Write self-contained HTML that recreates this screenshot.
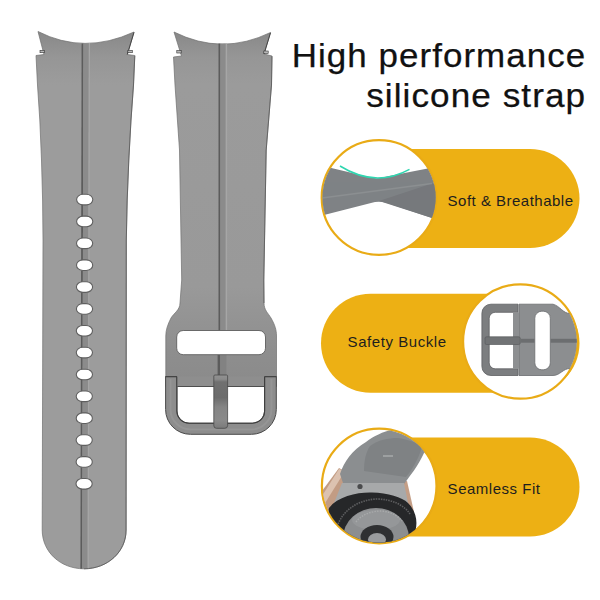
<!DOCTYPE html>
<html><head><meta charset="utf-8">
<style>
html,body{margin:0;padding:0;background:#fff;width:600px;height:600px;overflow:hidden}
svg{display:block;position:absolute;left:0;top:0}
text{font-family:"Liberation Sans",sans-serif}
</style></head>
<body>
<svg width="600" height="600" viewBox="0 0 600 600">
<defs>
  <clipPath id="c1"><circle cx="379" cy="197.5" r="56.6"/></clipPath>
  <clipPath id="c2"><circle cx="520.3" cy="341.5" r="56.5"/></clipPath>
  <clipPath id="c3"><circle cx="379.2" cy="486" r="56.6"/></clipPath>
  <linearGradient id="topshade" x1="0" y1="0" x2="0" y2="1">
    <stop offset="0" stop-color="#8e8e8e"/>
    <stop offset="1" stop-color="#9c9c9c"/>
  </linearGradient>
  <linearGradient id="lsg" gradientUnits="userSpaceOnUse" x1="0" y1="31" x2="0" y2="569">
    <stop offset="0" stop-color="#888"/>
    <stop offset="0.05" stop-color="#969696"/>
    <stop offset="0.1" stop-color="#9c9c9c"/>
    <stop offset="1" stop-color="#9c9c9c"/>
  </linearGradient>
  <linearGradient id="rsg" gradientUnits="userSpaceOnUse" x1="0" y1="31" x2="0" y2="387">
    <stop offset="0" stop-color="#888"/>
    <stop offset="0.075" stop-color="#969696"/>
    <stop offset="0.15" stop-color="#9b9b9b"/>
    <stop offset="0.72" stop-color="#999"/>
    <stop offset="0.9" stop-color="#8e8e8e"/>
    <stop offset="1" stop-color="#8a8a8a"/>
  </linearGradient>
  <linearGradient id="tg" x1="0" y1="0" x2="0" y2="1">
    <stop offset="0" stop-color="#929292"/>
    <stop offset="0.08" stop-color="#8a8a8a"/>
    <stop offset="0.13" stop-color="#707070"/>
    <stop offset="0.42" stop-color="#6c6c6c"/>
    <stop offset="0.6" stop-color="#858585"/>
    <stop offset="0.85" stop-color="#8a8a8a"/>
    <stop offset="1" stop-color="#7a7a7a"/>
  </linearGradient>
</defs>

<!-- LEFT STRAP -->
<g id="leftstrap">
  <path d="M38,31.5 Q84,55 134,32 L127.3,54.5 L134.8,55.5 L133.5,85 L131,120 L128.8,160 L127.2,200 L126.3,240 L126.1,530 C126.1,552 107.5,568.8 84,568.8 C60.5,568.8 42.2,552 42.2,530 L43,240 L42.6,200 L41.5,160 L39.8,120 L37.5,85 L36,55.5 L44,54.5 Z" fill="url(#lsg)" stroke="#6e6e6e" stroke-width="0.7"/>
  <polygon points="81.6,43.5 83.4,43.5 82.2,568.8 80.4,568.8" fill="#5c5c5c"/>
  <polygon points="83.4,43.5 88.8,43.5 87.6,568.8 82.2,568.8" fill="#8b8b8b"/>
  <polygon points="88.8,43 90,43 88.8,568 87.6,568" fill="#a6a6a6"/>
  <!-- holes -->
  <g fill="#fff" stroke="#5f5f5f" stroke-width="1.1">
    <rect x="76.6" y="194.30" width="16.2" height="10.6" rx="6.5" ry="5.3"/>
    <rect x="76.6" y="216.16" width="16.2" height="10.6" rx="6.5" ry="5.3"/>
    <rect x="76.5" y="238.02" width="16.2" height="10.6" rx="6.5" ry="5.3"/>
    <rect x="76.5" y="259.88" width="16.2" height="10.6" rx="6.5" ry="5.3"/>
    <rect x="76.4" y="281.74" width="16.2" height="10.6" rx="6.5" ry="5.3"/>
    <rect x="76.4" y="303.60" width="16.2" height="10.6" rx="6.5" ry="5.3"/>
    <rect x="76.3" y="325.46" width="16.2" height="10.6" rx="6.5" ry="5.3"/>
    <rect x="76.3" y="347.32" width="16.2" height="10.6" rx="6.5" ry="5.3"/>
    <rect x="76.3" y="369.18" width="16.2" height="10.6" rx="6.5" ry="5.3"/>
    <rect x="76.2" y="391.04" width="16.2" height="10.6" rx="6.5" ry="5.3"/>
    <rect x="76.2" y="412.90" width="16.2" height="10.6" rx="6.5" ry="5.3"/>
    <rect x="76.1" y="434.76" width="16.2" height="10.6" rx="6.5" ry="5.3"/>
    <rect x="76.1" y="456.62" width="16.2" height="10.6" rx="6.5" ry="5.3"/>
    <rect x="76.0" y="478.48" width="16.2" height="10.6" rx="6.5" ry="5.3"/>
  </g>
  <path d="M134.8,55.8 L133.5,85 L131,120 L128.8,160 L127.2,200 L126.3,240 L126.1,530 C126.1,552 107.5,568.8 84,568.8" fill="none" stroke="#555" stroke-width="0.9" opacity="0.8"/>
  <polyline points="134,32.3 127.3,54.5" fill="none" stroke="#444" stroke-width="1"/>
  <!-- spring bar pins -->
  <rect x="40" y="50.3" width="4.5" height="2.4" fill="#b8b8b8" stroke="#333" stroke-width="0.6"/>
  <rect x="127.8" y="50.3" width="4.5" height="2.4" fill="#b8b8b8" stroke="#333" stroke-width="0.6"/>
</g>

<!-- RIGHT STRAP -->
<g id="rightstrap">
  <path d="M174,32 Q222,56 270.5,32.5 L264,54 L272,56 L271.5,85 L266.2,150 L263.8,280 L264,303 C264,310 268,313 271,318 C275,325 276.5,330 276.5,336 L276.5,386.5 L165.8,386.5 L165.8,336 C165.8,330 167.5,325 171,318 C174,313 180,310 180,303 L181.7,280 L179.5,150 L175,85 L173.5,57 L181.5,56 Z" fill="url(#rsg)" stroke="#6e6e6e" stroke-width="0.7"/>
    <polyline points="272,56.3 271.5,85 266.2,150 263.8,280 264,303" fill="none" stroke="#555" stroke-width="0.9" opacity="0.8"/>
  <polyline points="270.5,32.8 264,54" fill="none" stroke="#444" stroke-width="1"/>
  <rect x="176.8" y="50.6" width="4.4" height="2.4" fill="#b8b8b8" stroke="#333" stroke-width="0.6"/>
  <rect x="263.8" y="51" width="4.4" height="2.4" fill="#b8b8b8" stroke="#333" stroke-width="0.6"/>
  <rect x="218.5" y="43.5" width="1.9" height="287.5" fill="#5c5c5c"/>
  <rect x="220.4" y="43.5" width="5.3" height="287.5" fill="#8b8b8b"/>
  <rect x="225.7" y="43.5" width="1.4" height="287.5" fill="#a6a6a6"/>
  <rect x="217.6" y="354.5" width="2.6" height="21" fill="#5c5c5c"/>
  <rect x="220.2" y="354.5" width="6.2" height="21" fill="#828282"/>
  <rect x="176.7" y="330.5" width="88.8" height="24.2" rx="6.5" fill="#fff" stroke="#5e5e5e" stroke-width="0.9"/>
  <!-- buckle frame -->
  <path d="M165.6,376.5 L165.6,409.5 A24.8,24.8 0 0 0 190.4,434.3 L251.5,434.3 A24.8,24.8 0 0 0 276.3,409.5 L276.3,376.5 L264.6,376.5 L264.6,411 A12.2,12.2 0 0 1 252.4,423.2 L189.1,423.2 A12.2,12.2 0 0 1 176.9,411 L176.9,376.5 Z" fill="#8d8d8d" stroke="#4a4a4a" stroke-width="1"/>
  <path d="M170.5,379 L170.5,409.5 A19.9,19.9 0 0 0 190.4,429.4 L251.5,429.4 A19.9,19.9 0 0 0 271.4,409.5 L271.4,379" fill="none" stroke="#999" stroke-width="2" opacity="0.7"/>
  <path d="M176.9,377 L176.9,411 A12.2,12.2 0 0 0 189.1,423.2 L252.4,423.2 A12.2,12.2 0 0 0 264.6,411 L264.6,377" fill="none" stroke="#3e3e3e" stroke-width="1.1"/>
  <line x1="165.6" y1="376.7" x2="176.9" y2="376.7" stroke="#444" stroke-width="1.2"/>
  <line x1="264.6" y1="376.7" x2="276.3" y2="376.7" stroke="#444" stroke-width="1.2"/>
  <rect x="177.5" y="376.5" width="86.5" height="10" fill="#8e8e8e"/>
  <line x1="177.5" y1="386.5" x2="264" y2="386.5" stroke="#4e4e4e" stroke-width="1"/>
  <!-- tongue -->
  <path d="M213.8,376 Q213.8,375 215,375 L226.5,375 Q227.6,375 227.6,376 L227.6,425.5 Q227.6,428.3 224.8,428.3 L216.6,428.3 Q213.8,428.3 213.8,425.5 Z" fill="url(#tg)" stroke="#4a4a4a" stroke-width="0.8"/>
</g>

<!-- TITLE -->
<text x="586.2" y="66.5" font-size="33" text-anchor="end" fill="#111" stroke="#111" stroke-width="0.25" letter-spacing="1" textLength="294.5" lengthAdjust="spacingAndGlyphs">High performance</text>
<text x="586.2" y="107.2" font-size="33" text-anchor="end" fill="#111" stroke="#111" stroke-width="0.25" letter-spacing="1" textLength="220" lengthAdjust="spacingAndGlyphs">silicone strap</text>

<!-- PILL 1 -->
<rect x="321" y="149" width="258.5" height="99" rx="49.5" fill="#edb014"/>
<circle cx="379" cy="197.5" r="57.3" fill="#fff" stroke="#e9ab16" stroke-width="2.2"/>
<g clip-path="url(#c1)">
  <path d="M318,164.5 L324,166.3 L368,176.8 Q376,179.5 384,177 L429,168.3 L440,166 L440,219 L432,218 L387,203 Q379,200.5 371,203 L324,215 L318,216.5 Z" fill="#7f8285"/>
  <path d="M379,201 L432,218 L440,219 L440,185 L432,183.5 Z" fill="#76797c"/>
  <path d="M318,198.5 L432,183.5" stroke="#989b9e" stroke-width="1.3" opacity="0.5"/>
  <path d="M340,166 Q375,188 409.5,169.3" fill="none" stroke="#2fd6b0" stroke-width="1.5"/>
</g>
<text x="447.6" y="206" font-size="15" fill="#1e1e1e" textLength="125.4" lengthAdjust="spacing">Soft &amp; Breathable</text>

<!-- PILL 2 -->
<rect x="321" y="293.8" width="258.5" height="99" rx="49.5" fill="#edb014"/>
<circle cx="520.3" cy="341.5" r="57.2" fill="#fff" stroke="#e9ab16" stroke-width="2.2"/>
<g clip-path="url(#c2)">
  <!-- strap -->
  <path d="M519,304.2 L553,304.2 C560,306 563,313.5 570,313.5 L582,313.5 L582,368.5 L570,368.5 C563,368.5 560,375.5 553,375.5 L519,375.5 Z" fill="#8c8e90" stroke="#6a6c6e" stroke-width="0.8"/>
  <rect x="520.8" y="338.8" width="62" height="3.9" fill="#6c6e70"/>
  <rect x="534.8" y="311.2" width="15.5" height="58.6" rx="7" fill="#fff" stroke="#6a6c6e" stroke-width="0.8"/>
  <!-- frame -->
  <path d="M518,304.2 L491,304.2 A9,9 0 0 0 481.9,313.2 L481.9,366.5 A9,9 0 0 0 491,375.5 L518,375.5 L518,368.8 L495.2,368.8 A6,6 0 0 1 489.2,362.8 L489.2,318.3 A6,6 0 0 1 495.2,312.3 L518,312.3 Z" fill="#7c7e80" stroke="#5e6062" stroke-width="0.8"/>
  <rect x="513" y="312.3" width="6" height="56.5" fill="#8d8f91"/>
  <!-- tongue -->
  <rect x="485" y="336.8" width="35.2" height="7.7" rx="1.5" fill="#717375" stroke="#5a5c5e" stroke-width="0.7"/>
</g>
<text x="347.6" y="347" font-size="15" fill="#1e1e1e" textLength="98.4" lengthAdjust="spacing">Safety Buckle</text>

<!-- PILL 3 -->
<rect x="321" y="437.5" width="258.5" height="99" rx="49.5" fill="#edb014"/>
<circle cx="379.2" cy="486" r="57.3" fill="#fff" stroke="#e9ab16" stroke-width="2.2"/>
<g clip-path="url(#c3)">
  <!-- rose gold lugs -->
  <path d="M314,502 L339,468 L350,474 L333,516 Z" fill="#c29c84"/>
  <path d="M339,469 L345,471 L322,508 L317,504 Z" fill="#dcc2b0"/>
  <path d="M400,482 L407,481 L414,512 L406,512 Z" fill="#c49e86"/>
  <!-- strap -->
  <path d="M340,474 C344,462 352,450 366,442 C374,436 382,432 394,429 L440,425 L440,440 L424,453 C418,466 410,476 404,484 L344,486 Z" fill="#8b8e90"/>
  <path d="M364,471 C364,460 366,452 370,446 C378,440 388,438 398,438 C410,440 418,443 422,447 C418,460 412,470 406,477 Z" fill="#7f8284"/>
  <rect x="383" y="455" width="10" height="2" fill="#a9acae" opacity="0.7"/>
  <!-- case -->
  <path d="M342,483 L404,483 L408,503 L334,503 Z" fill="#a7a9aa"/>
  <circle cx="360" cy="486.5" r="2.6" fill="#4a4b4c"/>
  <!-- body -->
  <path d="M329,508 C338,496 358,492 372,492.5 C388,493 402,497 408,503 C417,512 419,525 413,537 C406,549 391,553 372,553 C358,551 345,539 338,529 C333,522 327,514 329,508 Z" fill="#262729"/>
  <ellipse cx="376" cy="538" rx="33" ry="30" fill="#8c8e90"/>
  <ellipse cx="376" cy="520" rx="24" ry="10" fill="#a0a2a3" opacity="0.45"/>
  <path d="M338,524 C345,508 360,500 376,499 C392,499 404,505 410,514" fill="none" stroke="#8a8b8d" stroke-width="1.6" stroke-dasharray="1.5 1" opacity="0.55"/>
  <path d="M356,522 C362,514 372,511 382,511 C392,512 398,516 402,521" fill="none" stroke="#b5b7b8" stroke-width="1.4" stroke-dasharray="1.5 1.2" opacity="0.6"/>
  <ellipse cx="377" cy="537" rx="16.5" ry="12" fill="#2f3032"/>
  <ellipse cx="377" cy="539.5" rx="9" ry="6.5" fill="#9a9c9e"/>
</g>
<text x="447.6" y="493.7" font-size="15" fill="#1e1e1e" textLength="92.4" lengthAdjust="spacing">Seamless Fit</text>
</svg>
</body></html>
